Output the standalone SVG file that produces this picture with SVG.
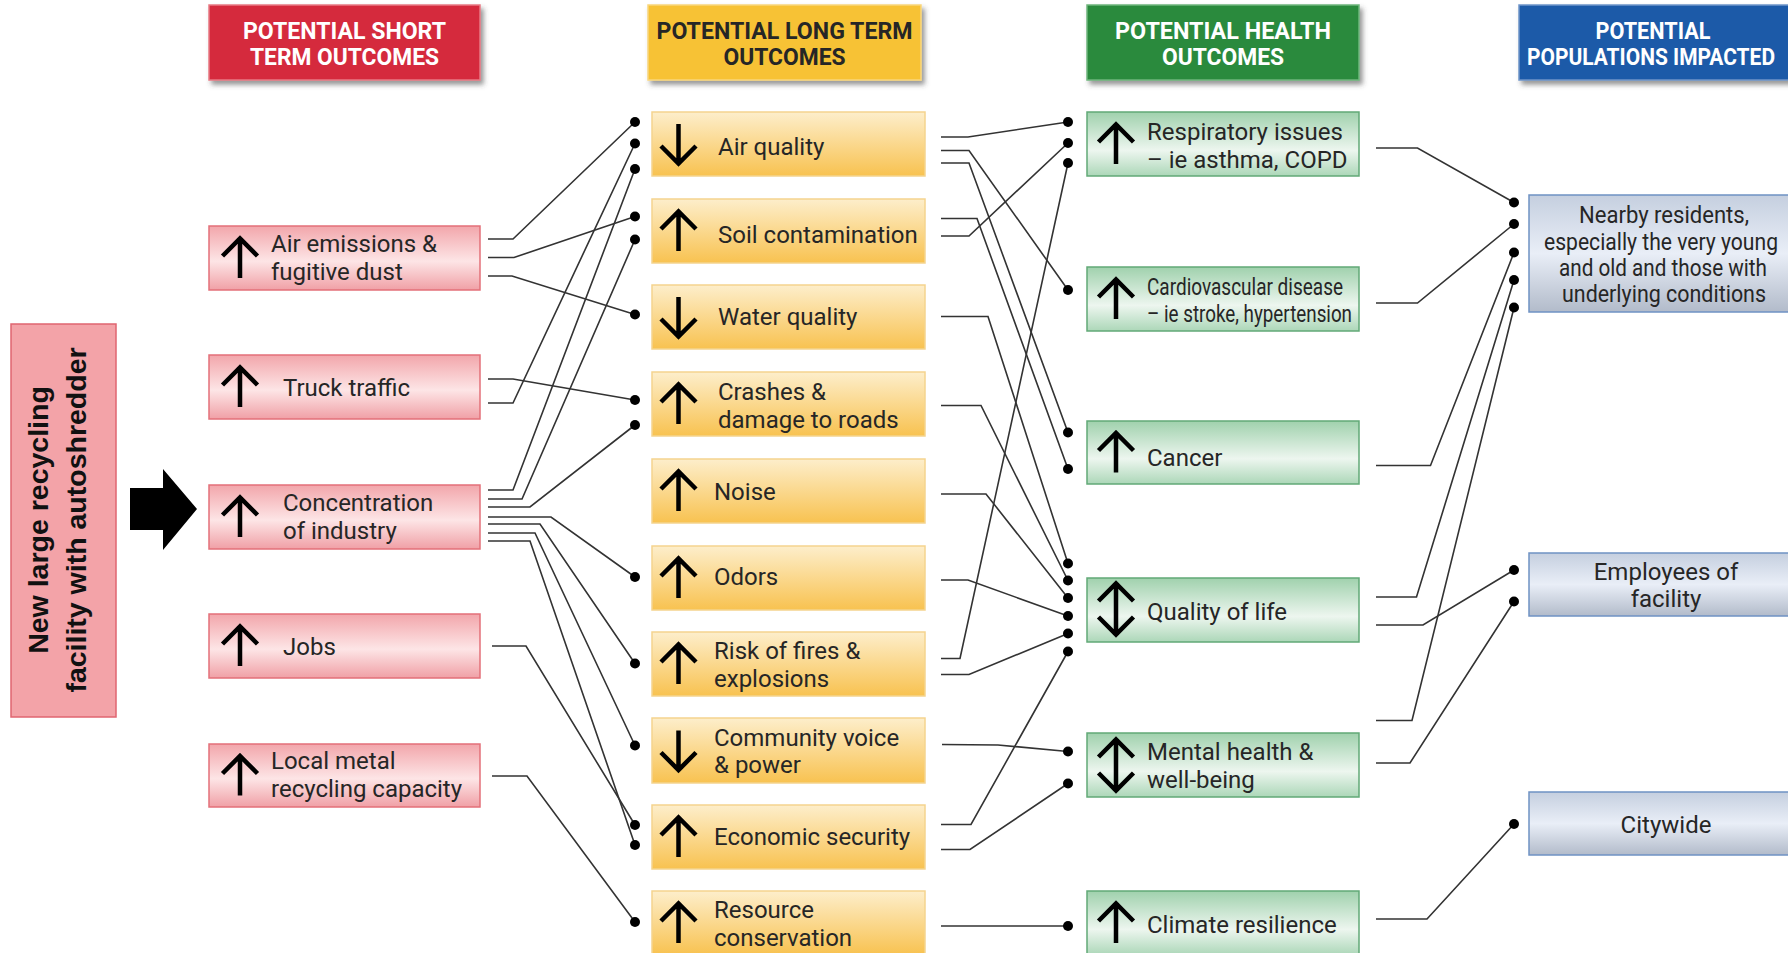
<svg xmlns="http://www.w3.org/2000/svg" width="1788" height="953" viewBox="0 0 1788 953">
<style>
.lbl{font-family:Roboto,"Liberation Sans",Arial,sans-serif;font-size:24px;fill:#262626}
.c4{text-anchor:middle}
.hdr{font-family:Roboto,"Liberation Sans",Arial,sans-serif;font-weight:700;font-size:23px;text-anchor:middle}
.conn{fill:none;stroke:#333;stroke-width:1.6;stroke-linejoin:miter}
.dot{fill:#000}
.arw{fill:none;stroke:#000;stroke-width:4.5;stroke-linejoin:miter}
.pk{fill:url(#gPink);stroke:#e37079;stroke-width:1.5}
.yl{fill:url(#gYel);stroke:#f5d48e;stroke-width:1.5}
.gr{fill:url(#gGrn);stroke:#62a977;stroke-width:1.5}
.bl{fill:url(#gBlu);stroke:#6f92c4;stroke-width:1.5}
</style>
<defs>
<linearGradient id="gPink" x1="0" y1="0" x2="0" y2="1">
<stop offset="0" stop-color="#f2a6ab"/><stop offset="0.55" stop-color="#fde5e6"/><stop offset="1" stop-color="#f0a0a6"/>
</linearGradient>
<linearGradient id="gYel" x1="0" y1="0" x2="0" y2="1">
<stop offset="0" stop-color="#fdeecb"/><stop offset="1" stop-color="#f8c250"/>
</linearGradient>
<linearGradient id="gGrn" x1="0" y1="0" x2="0" y2="1">
<stop offset="0" stop-color="#a0d1ad"/><stop offset="0.6" stop-color="#edf6ef"/><stop offset="1" stop-color="#acd7b8"/>
</linearGradient>
<linearGradient id="gBlu" x1="0" y1="0" x2="0" y2="1">
<stop offset="0" stop-color="#c5cfdf"/><stop offset="0.5" stop-color="#e9eef7"/><stop offset="1" stop-color="#b2bbca"/>
</linearGradient>
<filter id="sh" x="-5%" y="-10%" width="115%" height="135%">
<feDropShadow dx="3" dy="4" stdDeviation="2.5" flood-color="#444" flood-opacity="0.55"/>
</filter>
<path id="aUp" class="arw" d="M0,20 V-19 M-17.5,-2 L0,-19.5 L17.5,-2"/>
<path id="aDn" class="arw" d="M0,-20 V19 M-17.5,2 L0,19.5 L17.5,2"/>
<path id="aUd" class="arw" d="M0,-25 V25 M-17.5,-8 L0,-25.5 L17.5,-8 M-17.5,8 L0,25.5 L17.5,8"/>
</defs>
<rect width="1788" height="953" fill="#fff"/>

<g id="headers">
<g id="h-short"><rect x="209" y="5" width="271" height="75" fill="#d52b3d" stroke="#e77a84" stroke-width="1.5" filter="url(#sh)"/>
<text class="hdr" fill="#fff" x="344.5" y="38.5" textLength="203" lengthAdjust="spacingAndGlyphs">POTENTIAL SHORT</text>
<text class="hdr" fill="#fff" x="344.5" y="65" textLength="189" lengthAdjust="spacingAndGlyphs">TERM OUTCOMES</text></g>
<g id="h-long"><rect x="648" y="5" width="273" height="75" fill="#f7c236" stroke="#f9d67c" stroke-width="1.5" filter="url(#sh)"/>
<text class="hdr" fill="#262626" x="784.5" y="38.5" textLength="256" lengthAdjust="spacingAndGlyphs">POTENTIAL LONG TERM</text>
<text class="hdr" fill="#262626" x="784.5" y="65" textLength="122" lengthAdjust="spacingAndGlyphs">OUTCOMES</text></g>
<g id="h-health"><rect x="1087" y="5" width="272" height="75" fill="#2b8a3e" stroke="#6fb57c" stroke-width="1.5" filter="url(#sh)"/>
<text class="hdr" fill="#fff" x="1223" y="38.5" textLength="216" lengthAdjust="spacingAndGlyphs">POTENTIAL HEALTH</text>
<text class="hdr" fill="#fff" x="1223" y="65" textLength="122" lengthAdjust="spacingAndGlyphs">OUTCOMES</text></g>
<g id="h-pop"><rect x="1519" y="5" width="271" height="75" fill="#1e5aa8" stroke="#6f95c9" stroke-width="1.5" filter="url(#sh)"/>
<text class="hdr" fill="#fff" x="1653" y="38.5" textLength="115" lengthAdjust="spacingAndGlyphs">POTENTIAL</text>
<text class="hdr" fill="#fff" x="1651" y="65" textLength="248" lengthAdjust="spacingAndGlyphs">POPULATIONS IMPACTED</text></g>
</g>

<g id="source">
<rect x="11" y="324" width="105" height="393" fill="#f3a3a8" stroke="#e06570" stroke-width="1.5"/>
<text transform="translate(48,520) rotate(-90)" text-anchor="middle" font-family="'Liberation Sans',Arial,sans-serif" font-weight="700" font-size="28.5" fill="#111">New large recycling</text>
<text transform="translate(86,520) rotate(-90)" text-anchor="middle" font-family="'Liberation Sans',Arial,sans-serif" font-weight="700" font-size="28.5" fill="#111">facility with autoshredder</text>
</g>
<polygon id="big-arrow" points="130,488 163,488 163,469 197,509 163,550 163,530 130,530" fill="#000"/>

<g id="connectors">
<polyline class="conn" points="488,239 513,239 635,122"/>
<polyline class="conn" points="488,257.5 514,257.5 635,216.5"/>
<polyline class="conn" points="488,276 512,276 635,314.5"/>
<polyline class="conn" points="488,379 513,379 635,400"/>
<polyline class="conn" points="488,403 513,403 635,143.5"/>
<polyline class="conn" points="488,490 513,490 635,169"/>
<polyline class="conn" points="488,499 522,499 635,239.5"/>
<polyline class="conn" points="488,507 530,507 635,425"/>
<polyline class="conn" points="488,517 551,517 635,577"/>
<polyline class="conn" points="488,524 540,524 635,663.5"/>
<polyline class="conn" points="488,533 535,533 635,745.5"/>
<polyline class="conn" points="488,541 530,541 635,845"/>
<polyline class="conn" points="492,646 526,646 635,825"/>
<polyline class="conn" points="492,776 527,776 635,922"/>

<polyline class="conn" points="941,137 968,137 1068,122"/>
<polyline class="conn" points="941,150.5 969,150.5 1068,290"/>
<polyline class="conn" points="941,163 969,163 1068,432.5"/>
<polyline class="conn" points="941,218.5 977,218.5 1068,469"/>
<polyline class="conn" points="941,236 969,236 1068,143"/>
<polyline class="conn" points="941,316.5 988,316.5 1068,563.5"/>
<polyline class="conn" points="941,405.5 981,405.5 1068,580.5"/>
<polyline class="conn" points="941,494 986,494 1068,598"/>
<polyline class="conn" points="941,580 968,580 1068,616"/>
<polyline class="conn" points="941,658.5 960,658.5 1068,163"/>
<polyline class="conn" points="941,674.5 969,674.5 1068,633.5"/>
<polyline class="conn" points="942,744.5 998,745 1068,751.5"/>
<polyline class="conn" points="941,824.5 971,824.5 1068,651.5"/>
<polyline class="conn" points="941,849.5 970,849.5 1068,783.5"/>
<polyline class="conn" points="941,926 1068,926"/>

<polyline class="conn" points="1376,148 1417.5,148 1514,202.5"/>
<polyline class="conn" points="1376,303 1417.5,303 1514,224"/>
<polyline class="conn" points="1376,465.5 1430.5,465.5 1514,252.5"/>
<polyline class="conn" points="1376,597 1416.5,597 1514,280"/>
<polyline class="conn" points="1376,625 1423,625 1514,570"/>
<polyline class="conn" points="1376,720.5 1412,720.5 1514,307.5"/>
<polyline class="conn" points="1376,763 1410,763 1514,601.5"/>
<polyline class="conn" points="1376,919 1427,919 1514,824"/>

<g class="dot">
<circle cx="635" cy="122" r="5"/><circle cx="635" cy="143.5" r="5"/><circle cx="635" cy="169" r="5"/>
<circle cx="635" cy="216.5" r="5"/><circle cx="635" cy="239.5" r="5"/><circle cx="635" cy="314.5" r="5"/>
<circle cx="635" cy="400" r="5"/><circle cx="635" cy="425" r="5"/><circle cx="635" cy="577" r="5"/>
<circle cx="635" cy="663.5" r="5"/><circle cx="635" cy="745.5" r="5"/><circle cx="635" cy="825" r="5"/>
<circle cx="635" cy="845" r="5"/><circle cx="635" cy="922" r="5"/>
<circle cx="1068" cy="122" r="5"/><circle cx="1068" cy="143" r="5"/><circle cx="1068" cy="163" r="5"/>
<circle cx="1068" cy="290" r="5"/><circle cx="1068" cy="432.5" r="5"/><circle cx="1068" cy="469" r="5"/>
<circle cx="1068" cy="563.5" r="5"/><circle cx="1068" cy="580.5" r="5"/><circle cx="1068" cy="598" r="5"/>
<circle cx="1068" cy="616" r="5"/><circle cx="1068" cy="633.5" r="5"/><circle cx="1068" cy="651.5" r="5"/>
<circle cx="1068" cy="751.5" r="5"/><circle cx="1068" cy="783.5" r="5"/><circle cx="1068" cy="926" r="5"/>
<circle cx="1514" cy="202.5" r="5"/><circle cx="1514" cy="224" r="5"/><circle cx="1514" cy="252.5" r="5"/>
<circle cx="1514" cy="280" r="5"/><circle cx="1514" cy="307.5" r="5"/><circle cx="1514" cy="570" r="5"/>
<circle cx="1514" cy="601.5" r="5"/><circle cx="1514" cy="824" r="5"/>
</g>
</g>

<g id="short-term">
<g id="n-air-emissions"><rect class="pk" x="209" y="226" width="271" height="64"/><use href="#aUp" x="240" y="258"/>
<text class="lbl" x="271" y="252">Air emissions &amp;</text><text class="lbl" x="271" y="280">fugitive dust</text></g>
<g id="n-truck"><rect class="pk" x="209" y="355" width="271" height="64"/><use href="#aUp" x="240" y="387"/>
<text class="lbl" x="283" y="396">Truck traffic</text></g>
<g id="n-industry"><rect class="pk" x="209" y="485" width="271" height="64"/><use href="#aUp" x="240" y="517"/>
<text class="lbl" x="283" y="511">Concentration</text><text class="lbl" x="283" y="539">of industry</text></g>
<g id="n-jobs"><rect class="pk" x="209" y="614" width="271" height="64"/><use href="#aUp" x="240" y="646"/>
<text class="lbl" x="283" y="655">Jobs</text></g>
<g id="n-metal"><rect class="pk" x="209" y="744" width="271" height="63"/><use href="#aUp" x="240" y="775.5"/>
<text class="lbl" x="271" y="769">Local metal</text><text class="lbl" x="271" y="797">recycling capacity</text></g>
</g>

<g id="long-term">
<g id="n-air-quality"><rect class="yl" x="652" y="112" width="273" height="64"/><use href="#aDn" x="678.5" y="144"/>
<text class="lbl" x="718" y="155">Air quality</text></g>
<g id="n-soil"><rect class="yl" x="652" y="199" width="273" height="64"/><use href="#aUp" x="678.5" y="231"/>
<text class="lbl" x="718" y="243">Soil contamination</text></g>
<g id="n-water"><rect class="yl" x="652" y="285" width="273" height="64"/><use href="#aDn" x="678.5" y="317"/>
<text class="lbl" x="718" y="325">Water quality</text></g>
<g id="n-crashes"><rect class="yl" x="652" y="372" width="273" height="64"/><use href="#aUp" x="678.5" y="404"/>
<text class="lbl" x="718" y="400">Crashes &amp;</text><text class="lbl" x="718" y="428">damage to roads</text></g>
<g id="n-noise"><rect class="yl" x="652" y="459" width="273" height="64"/><use href="#aUp" x="678.5" y="491"/>
<text class="lbl" x="714" y="500">Noise</text></g>
<g id="n-odors"><rect class="yl" x="652" y="546" width="273" height="64"/><use href="#aUp" x="678.5" y="578"/>
<text class="lbl" x="714" y="585">Odors</text></g>
<g id="n-fires"><rect class="yl" x="652" y="632" width="273" height="64"/><use href="#aUp" x="678.5" y="664"/>
<text class="lbl" x="714" y="659">Risk of fires &amp;</text><text class="lbl" x="714" y="687">explosions</text></g>
<g id="n-voice"><rect class="yl" x="652" y="718" width="273" height="65"/><use href="#aDn" x="678.5" y="750.5"/>
<text class="lbl" x="714" y="746">Community voice</text><text class="lbl" x="714" y="773">&amp; power</text></g>
<g id="n-economic"><rect class="yl" x="652" y="805" width="273" height="64"/><use href="#aUp" x="678.5" y="837"/>
<text class="lbl" x="714" y="845">Economic security</text></g>
<g id="n-resource"><rect class="yl" x="652" y="891" width="273" height="64"/><use href="#aUp" x="678.5" y="923"/>
<text class="lbl" x="714" y="918">Resource</text><text class="lbl" x="714" y="946">conservation</text></g>
</g>

<g id="health">
<g id="n-respiratory"><rect class="gr" x="1087" y="112" width="272" height="64"/><use href="#aUp" x="1116" y="144"/>
<text class="lbl" x="1147" y="140">Respiratory issues</text><text class="lbl" x="1147" y="168">– ie asthma, COPD</text></g>
<g id="n-cardio"><rect class="gr" x="1087" y="267" width="272" height="64"/><use href="#aUp" x="1116" y="299"/>
<text class="lbl" x="1147" y="295" font-size="22" textLength="196" lengthAdjust="spacingAndGlyphs">Cardiovascular disease</text>
<text class="lbl" x="1147" y="322" font-size="22" textLength="205" lengthAdjust="spacingAndGlyphs">– ie stroke, hypertension</text></g>
<g id="n-cancer"><rect class="gr" x="1087" y="421" width="272" height="63"/><use href="#aUp" x="1116" y="452.5"/>
<text class="lbl" x="1147" y="466">Cancer</text></g>
<g id="n-qol"><rect class="gr" x="1087" y="578" width="272" height="64"/><use href="#aUd" x="1116" y="609"/>
<text class="lbl" x="1147" y="620">Quality of life</text></g>
<g id="n-mental"><rect class="gr" x="1087" y="733" width="272" height="64"/><use href="#aUd" x="1116" y="765"/>
<text class="lbl" x="1147" y="760">Mental health &amp;</text><text class="lbl" x="1147" y="788">well-being</text></g>
<g id="n-climate"><rect class="gr" x="1087" y="891" width="272" height="64"/><use href="#aUp" x="1116" y="923"/>
<text class="lbl" x="1147" y="933">Climate resilience</text></g>
</g>

<g id="populations">
<g id="n-residents"><rect class="bl" x="1529" y="195" width="274" height="117"/>
<text class="lbl c4" font-size="22" x="1664" y="223" textLength="170" lengthAdjust="spacingAndGlyphs">Nearby residents,</text>
<text class="lbl c4" font-size="22" x="1661" y="249.5" textLength="234" lengthAdjust="spacingAndGlyphs">especially the very young</text>
<text class="lbl c4" font-size="22" x="1663" y="276" textLength="208" lengthAdjust="spacingAndGlyphs">and old and those with</text>
<text class="lbl c4" font-size="22" x="1664" y="302" textLength="204" lengthAdjust="spacingAndGlyphs">underlying conditions</text></g>
<g id="n-employees"><rect class="bl" x="1529" y="553" width="274" height="63"/>
<text class="lbl c4" x="1666" y="580">Employees of</text><text class="lbl c4" x="1666" y="607">facility</text></g>
<g id="n-citywide"><rect class="bl" x="1529" y="792" width="274" height="63"/>
<text class="lbl c4" x="1666" y="833">Citywide</text></g>
</g>
</svg>
